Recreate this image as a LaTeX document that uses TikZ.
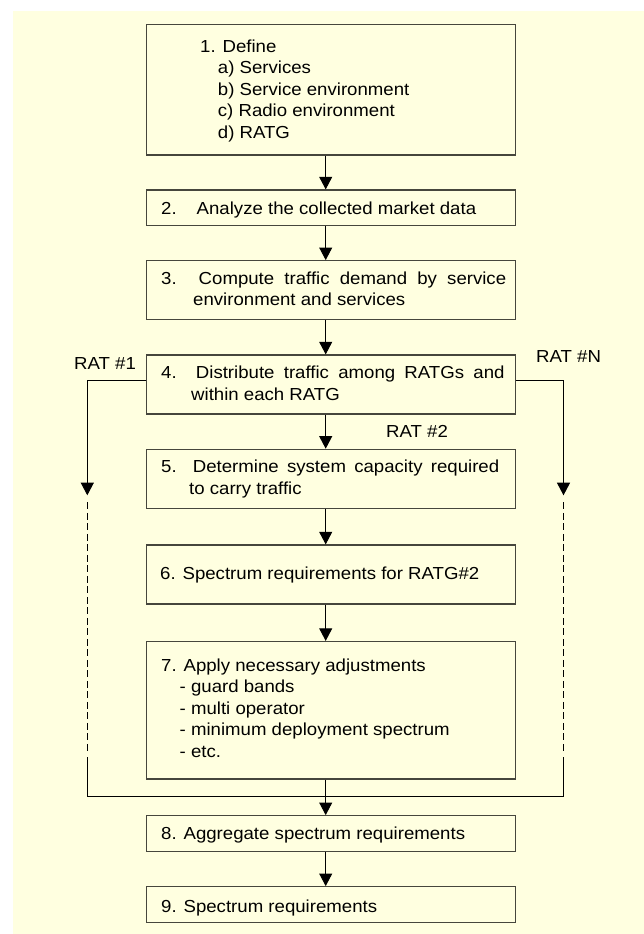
\documentclass[tikz,border=0pt]{standalone}
\usepackage{fontspec}
\setmainfont{Liberation Sans}[FakeStretch=1.07]
\usetikzlibrary{arrows.meta}
\definecolor{bgyellow}{RGB}{255,255,224}
\definecolor{boxline}{RGB}{70,70,60}
\begin{document}
\begin{tikzpicture}[x=1pt,y=-1pt,
  stepbox/.style={draw=boxline, line width=1.2pt, fill=bgyellow, inner sep=0pt, minimum width=368.8pt},
  txt/.style={anchor=base west, inner sep=0pt, font=\fontsize{17.4}{20}\selectfont},
  conn/.style={line width=1pt, draw=black},
  arr/.style={conn, -{Triangle[length=12.6pt,width=13pt]}},
  dashline/.style={conn, dash pattern=on 7pt off 3.5pt}
]
% page and background
\useasboundingbox (0,0) rectangle (644,934);
\fill[white] (0,0) rectangle (644,934);
\fill[bgyellow] (12.7,11) rectangle (644,934);

% boxes
\node[stepbox, minimum height=130.7pt] (b1) at (331.1,89.65) {};
\node[stepbox, minimum height=35.7pt]  (b2) at (331.1,207.85) {};
\node[stepbox, minimum height=58.6pt]  (b3) at (331.1,290) {};
\node[stepbox, minimum height=59pt]    (b4) at (331.1,384.5) {};
\node[stepbox, minimum height=59pt]    (b5) at (331.1,478.8) {};
\node[stepbox, minimum height=59pt]    (b6) at (331.1,574.5) {};
\node[stepbox, minimum height=137.5pt] (b7) at (331.1,710.25) {};
\node[stepbox, minimum height=35.6pt]  (b8) at (331.1,833.5) {};
\node[stepbox, minimum height=35.6pt]  (b9) at (331.1,904.5) {};

% texts
\node[txt] (t1)  at (200,52.3)   {1. Define};
\node[txt] (t1a) at (217.7,73.3) {a) Services};
\node[txt] (t1b) at (217.7,95.7) {b) Service environment};
\node[txt] (t1c) at (217.7,116)  {c) Radio environment};
\node[txt] (t1d) at (217.7,138)  {d) RATG};
\node[txt] (t2)  at (161,214)    {2.\hspace{20pt}Analyze the collected market data};
\node[txt] (t3a) at (161,284.3)  {\makebox[345pt][s]{3. Compute traffic demand by service}};
\node[txt] (t3b) at (193,305)    {environment and services};
\node[txt] (t4a) at (161,378.3)  {\makebox[343.3pt][s]{4. Distribute traffic among RATGs and}};
\node[txt] (t4b) at (191,400)    {within each RATG};
\node[txt] (t5a) at (161,472.3)  {\makebox[338pt][s]{5. Determine system capacity required}};
\node[txt] (t5b) at (189,494.3)  {to carry traffic};
\node[txt] (t6)  at (160,579.3)  {6. Spectrum requirements for RATG\#2};
\node[txt] (t7)  at (161,671.3)  {7. Apply necessary adjustments};
\node[txt] (t7a) at (179.5,692.3) {- guard bands};
\node[txt] (t7b) at (179.5,714.7) {- multi operator};
\node[txt] (t7c) at (179.5,735.7) {- minimum deployment spectrum};
\node[txt] (t7d) at (179.5,757.3) {- etc.};
\node[txt] (t8)  at (161,839.7)  {8. Aggregate spectrum requirements};
\node[txt] (t9)  at (161,912.5)  {9. Spectrum requirements};
\node[txt] (r1)  at (74,369)     {RAT \#1};
\node[txt] (rN)  at (536,362.3)  {RAT \#N};
\node[txt] (r2)  at (386,437.3)  {RAT \#2};

% main arrows
\coordinate (ax) at (325.7,0);
\draw[arr] (b1.south -| ax) -- (b2.north -| ax);
\draw[arr] (b2.south -| ax) -- (b3.north -| ax);
\draw[arr] (b3.south -| ax) -- (b4.north -| ax);
\draw[arr] (b4.south -| ax) -- (b5.north -| ax);
\draw[arr] (b5.south -| ax) -- (b6.north -| ax);
\draw[arr] (b6.south -| ax) -- (b7.north -| ax);
\draw[arr] (b7.south -| ax) -- (b8.north -| ax);
\draw[arr] (b8.south -| ax) -- (b9.north -| ax);

% side routes
\coordinate (lt) at (87.3,495.3);
\coordinate (rt) at (563.5,495.3);
\coordinate (lds) at (87.3,502.3);
\coordinate (lde) at (87.3,753.3);
\coordinate (rds) at (563.5,502.3);
\coordinate (rde) at (563.5,753.3);
\coordinate (lss) at (87.3,757);
\coordinate (rss) at (563.5,757);
\coordinate (lb) at (87.3,796.7);
\coordinate (rb) at (563.5,796.7);
\draw[arr] ([yshift=3.8pt]b4.west) -| (lt);
\draw[arr] ([yshift=4.5pt]b4.east) -| (rt);
\draw[dashline] (lds) -- (lde);
\draw[dashline] (rds) -- (rde);
\draw[conn] (lss) -- (lb) -- (rb) -- (rss);
\end{tikzpicture}
\end{document}
